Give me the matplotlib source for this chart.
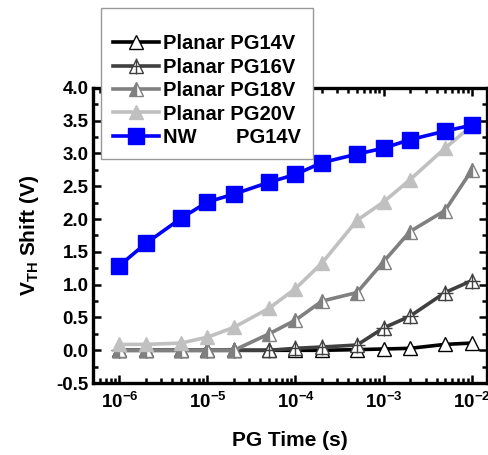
import matplotlib
matplotlib.use('Agg')
import matplotlib.pyplot as plt
from matplotlib.legend_handler import HandlerTuple
from matplotlib.ticker import MultipleLocator, LogLocator, NullFormatter, FormatStrFormatter

plt.rcParams['font.family'] = ['Liberation Sans', 'DejaVu Sans']
plt.rcParams['font.weight'] = 'bold'
plt.rcParams['mathtext.fontset'] = 'custom'
plt.rcParams['mathtext.rm'] = 'Liberation Sans:bold'
plt.rcParams['mathtext.bf'] = 'Liberation Sans:bold'

# PG time (s)
t = [1e-6, 2e-6, 5e-6, 1e-5, 2e-5, 5e-5, 1e-4, 2e-4, 5e-4, 1e-3, 2e-3, 5e-3, 1e-2]

# Vth shift (V)
planar14 = [0.0, 0.0, 0.0, 0.0, 0.0, 0.0, 0.0, 0.0, 0.01, 0.02, 0.03, 0.09, 0.11]
planar16 = [0.0, 0.0, 0.0, 0.0, 0.0, 0.0, 0.03, 0.05, 0.08, 0.34, 0.52, 0.88, 1.06]
planar18 = [0.0, 0.0, 0.0, 0.0, 0.0, 0.25, 0.46, 0.75, 0.88, 1.35, 1.81, 2.13, 2.74]
planar20 = [0.09, 0.09, 0.11, 0.2, 0.35, 0.64, 0.94, 1.33, 1.98, 2.26, 2.6, 3.08, 3.42]
nw14 = [1.29, 1.63, 2.01, 2.26, 2.38, 2.56, 2.68, 2.86, 2.99, 3.08, 3.21, 3.34, 3.43]

labels = ['Planar PG14V', 'Planar PG16V', 'Planar PG18V', 'Planar PG20V',
          'NW       PG14V']

fig = plt.figure(figsize=(4.89, 4.55), dpi=100)
ax = fig.add_axes([0.19, 0.158, 0.806, 0.649])

lw = 2.6
l14, = ax.plot(t, planar14, color='black', lw=lw, marker='^', ms=10,
               mfc='white', mec='black', mew=1)
l16a, = ax.plot(t, planar16, color='#404040', lw=lw, marker='^', ms=10,
                mfc='white', mec='#404040', mew=1)
l16b, = ax.plot(t, planar16, color='#404040', lw=0, marker='+', ms=11,
                mec='#404040', mew=1)
l18, = ax.plot(t, planar18, color='#808080', lw=lw, marker='^', ms=10,
               fillstyle='left', mfc='#808080', mfcalt='white', mec='#808080', mew=1)
l20, = ax.plot(t, planar20, color='#c0c0c0', lw=lw, marker='^', ms=10,
               mfc='#c0c0c0', mec='#c0c0c0', mew=1)
lnw, = ax.plot(t, nw14, color='#0000ff', lw=lw, marker='s', ms=11,
               mfc='#0000ff', mec='#0000ff')

ax.set_xscale('log')
ax.set_xlim(5e-7, 1.5e-2)
ax.set_ylim(-0.5, 4.0)
ax.yaxis.set_major_locator(MultipleLocator(0.5))
ax.yaxis.set_minor_locator(MultipleLocator(0.25))
ax.xaxis.set_major_locator(LogLocator(base=10, numticks=10))
ax.xaxis.set_minor_locator(LogLocator(base=10, subs=range(2, 10), numticks=10))
ax.xaxis.set_minor_formatter(NullFormatter())
ax.yaxis.set_major_formatter(FormatStrFormatter('%.1f'))

ax.tick_params(which='both', direction='in', top=True, right=True, width=1.8)
ax.tick_params(which='major', length=6, labelsize=13.5, pad=3)
ax.tick_params(axis='x', which='major', pad=6)
ax.tick_params(which='minor', length=3.5)
for s in ax.spines.values():
    s.set_linewidth(2.4)

ax.set_xlabel('PG Time (s)', fontsize=15, fontweight='bold', labelpad=14)
ax.set_ylabel(r'V$_{\mathrm{TH}}$ Shift (V)', fontsize=15, fontweight='bold', labelpad=11)

fig.legend([l14, (l16a, l16b), l18, l20, lnw], labels,
           handler_map={tuple: HandlerTuple(ndivide=1)},
           loc='upper left', bbox_to_anchor=(0.206, 0.983), fontsize=14.5,
           title=' ', title_fontsize=8,
           frameon=True, fancybox=False, edgecolor='#999999', framealpha=1,
           handlelength=2.3, handletextpad=0.2, labelspacing=0.22,
           borderpad=0.6, borderaxespad=0)

fig.savefig('out.png', dpi=100)
